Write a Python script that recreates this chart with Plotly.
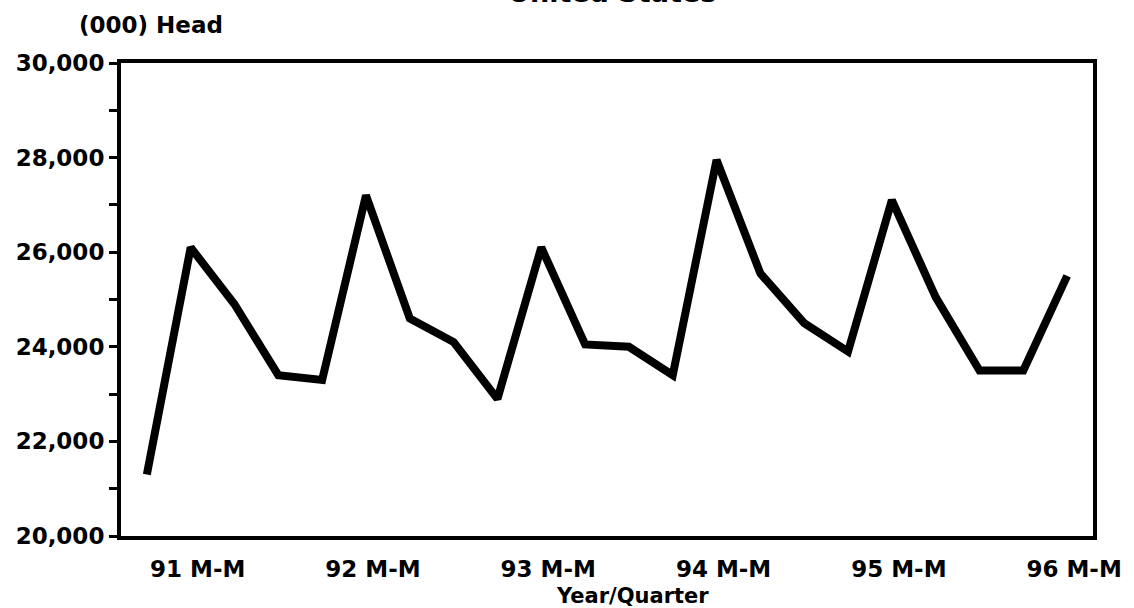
import plotly.graph_objects as go

quarters = ["91 D-F", "91 M-M", "91 J-A", "91 S-N",
            "92 D-F", "92 M-M", "92 J-A", "92 S-N",
            "93 D-F", "93 M-M", "93 J-A", "93 S-N",
            "94 D-F", "94 M-M", "94 J-A", "94 S-N",
            "95 D-F", "95 M-M", "95 J-A", "95 S-N",
            "96 D-F", "96 M-M"]
head = [21300, 26100, 24900, 23400,
        23300, 27200, 24600, 24100,
        22900, 26100, 24050, 24000,
        23400, 27950, 25550, 24500,
        23900, 27100, 25050, 23500,
        23500, 25500]
tick_labels = ["91 M-M", "92 M-M", "93 M-M", "94 M-M", "95 M-M", "96 M-M"]
y_ticks = [20000, 22000, 24000, 26000, 28000, 30000]

FONT = "DejaVu Sans"

fig = go.Figure()
fig.add_trace(go.Scatter(
    x=quarters, y=head, mode="lines",
    line=dict(color="black", width=8),
    hoverinfo="skip", showlegend=False,
))

fig.update_layout(
    width=1134, height=608,
    margin=dict(l=121, r=36, t=63, b=72),
    paper_bgcolor="white", plot_bgcolor="white",
    font=dict(family=FONT, color="black", size=23, weight="bold"),
    xaxis=dict(
        type="category",
        categoryorder="array", categoryarray=quarters,
        range=[-0.59, 21.59],
        tickmode="array", tickvals=tick_labels, ticktext=tick_labels,
        ticks="", showgrid=False, zeroline=False,
        showline=True, linecolor="black", linewidth=4, mirror=True,
        ticklabelstandoff=9, ticklabelshift=7,
        tickfont=dict(family=FONT, size=23, weight="bold"),
    ),
    yaxis=dict(
        range=[20000, 30000],
        tickmode="array", tickvals=y_ticks,
        ticktext=[f"{v:,}" for v in y_ticks],
        ticks="outside", ticklen=4, tickwidth=1, tickcolor="black",
        minor=dict(dtick=1000, tick0=0, ticks="outside", ticklen=8,
                   tickwidth=3, tickcolor="black", showgrid=False),
        showgrid=False, zeroline=False,
        showline=True, linecolor="black", linewidth=4, mirror=True,
        tickfont=dict(family=FONT, size=23, weight="bold"),
        ticklabelstandoff=4,
    ),
    annotations=[
        dict(text="(000) Head", xref="paper", yref="paper",
             x=-0.045, y=1.08, xanchor="left", yanchor="middle",
             showarrow=False, font=dict(family=FONT, size=23, weight="bold")),
        dict(text="Year/Quarter", xref="paper", yref="paper",
             x=0.526, y=-0.127, xanchor="center", yanchor="middle",
             showarrow=False, font=dict(family=FONT, size=21, weight="bold")),
        dict(text="United States", xref="paper", yref="paper",
             x=0.505, y=1.113, xanchor="center", yanchor="bottom",
             showarrow=False, font=dict(family=FONT, size=27, weight="bold")),
    ],
)

fig.write_html("out.html", config={"displayModeBar": False},
               post_script="document.body.style.margin='0';")
